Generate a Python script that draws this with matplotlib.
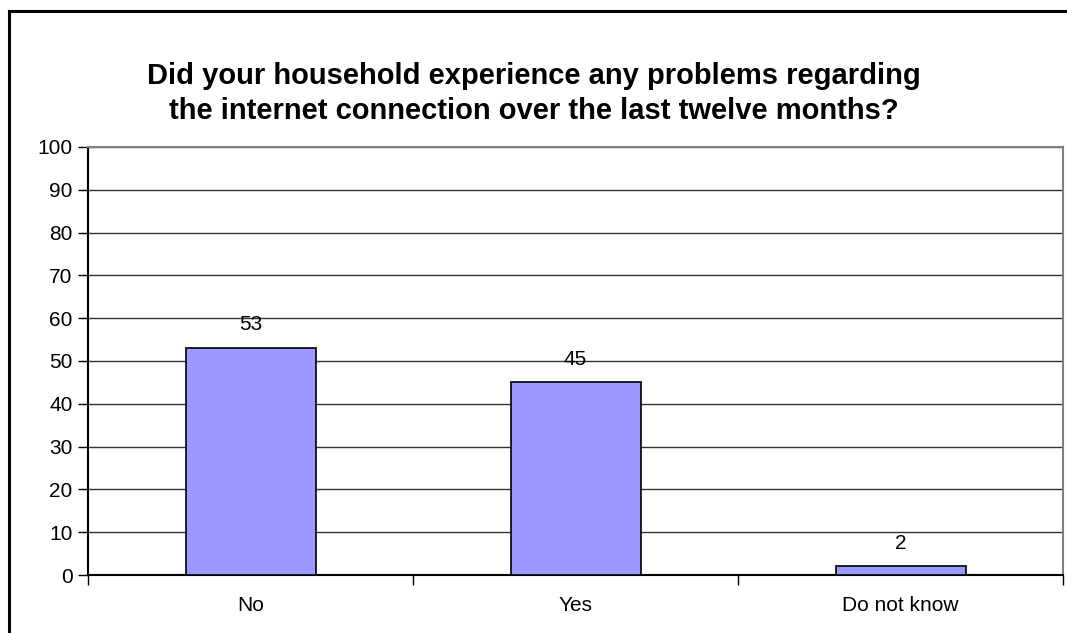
import matplotlib
matplotlib.use('Agg')
import matplotlib.pyplot as plt
from matplotlib.lines import Line2D
import numpy as np

categories = ['No', 'Yes', 'Do not know']
values = [53, 45, 2]
y_ticks = list(range(0, 101, 10))

plt.rcParams['font.family'] = ['Liberation Sans', 'DejaVu Sans']

fig = plt.figure(figsize=(10.67, 6.33), dpi=100)
ax = fig.add_axes([0.0825, 0.0916, 0.9138, 0.6762])

x = np.arange(len(categories))
bars = ax.bar(x, values, width=0.4, color='#9999FF', edgecolor='black',
              linewidth=1.2, zorder=3)

for rect, v in zip(bars, values):
    ax.annotate(str(v), (rect.get_x() + rect.get_width() / 2, v),
                xytext=(0, 10), textcoords='offset points',
                ha='center', va='bottom', fontsize=15)

ax.set_xlim(-0.5, len(categories) - 0.5)
ax.set_ylim(0, 100)
ax.set_yticks(y_ticks)
ax.set_xticks(x)
ax.set_xticklabels(categories, fontsize=15)
ax.set_xticks(np.arange(-0.5, len(categories), 1.0), minor=True)
ax.tick_params(axis='x', which='major', length=0, pad=15)
ax.tick_params(axis='x', which='minor', length=7, width=1, color='black',
               direction='out')
ax.tick_params(axis='y', labelsize=15, length=7, width=1, direction='out',
               pad=4)

ax.yaxis.grid(True, color='#333333', linewidth=1, zorder=0)
ax.set_axisbelow(True)

ax.spines['left'].set_color('black')
ax.spines['bottom'].set_color('black')
ax.spines['top'].set_color('#808080')
ax.spines['right'].set_color('#808080')
for s in ax.spines.values():
    s.set_linewidth(1.5)

fig.text(0.5, 0.852, 'Did your household experience any problems regarding\n'
         'the internet connection over the last twelve months?',
         ha='center', va='center', fontsize=21, fontweight='bold',
         linespacing=1.3)

# outer chart frame (left and top edges visible)
fig.add_artist(Line2D([9 / 1067, 9 / 1067], [0, 1 - 11 / 633],
                      color='black', linewidth=2.2))
fig.add_artist(Line2D([9 / 1067, 1], [1 - 11 / 633, 1 - 11 / 633],
                      color='black', linewidth=2.2))

fig.savefig('out.png', dpi=100)
plt.close(fig)
